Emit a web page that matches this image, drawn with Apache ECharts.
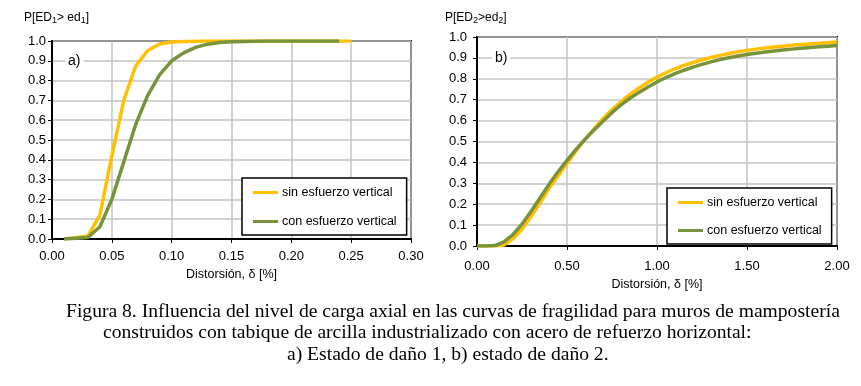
<!DOCTYPE html>
<html>
<head>
<meta charset="utf-8">
<script src="https://cdn.jsdelivr.net/npm/echarts@6/dist/echarts.min.js"></script>
<style>
  html, body { margin: 0; padding: 0; background: #fff; }
  #chart { width: 861px; height: 386px; }
</style>
</head>
<body>
<div id="chart"></div>
<script>
// Datos
const distA = [0.01, 0.02, 0.03, 0.04, 0.05, 0.06, 0.07, 0.08, 0.09, 0.10,
  0.11, 0.12, 0.13, 0.14, 0.15, 0.16, 0.17, 0.18, 0.19, 0.20,
  0.21, 0.22, 0.23, 0.24, 0.25];
const sinA = [0, 0.006, 0.015, 0.12, 0.42, 0.70, 0.875, 0.952, 0.985, 0.995,
  0.998, 0.999, 1, 1, 1, 1, 1, 1, 1, 1,
  1, 1, 1, 1, 1];
const conA = [0, 0.004, 0.008, 0.062, 0.20, 0.39, 0.58, 0.725, 0.83, 0.90,
  0.94, 0.968, 0.984, 0.992, 0.996, 0.998, 0.999, 1, 1, 1,
  1, 1, 1, 1];

const distB = [0.00, 0.05, 0.10, 0.15, 0.20, 0.25, 0.30, 0.35, 0.40, 0.45,
  0.50, 0.55, 0.60, 0.65, 0.70, 0.75, 0.80, 0.85, 0.90, 0.95,
  1.00, 1.05, 1.10, 1.15, 1.20, 1.25, 1.30, 1.35, 1.40, 1.45,
  1.50, 1.55, 1.60, 1.65, 1.70, 1.75, 1.80, 1.85, 1.90, 1.95, 2.00];
const sinB = [0, 0, 0, 0.005, 0.035, 0.08, 0.14, 0.205, 0.275, 0.335,
  0.395, 0.455, 0.51, 0.56, 0.61, 0.652, 0.69, 0.725, 0.756, 0.784,
  0.808, 0.829, 0.848, 0.864, 0.878, 0.891, 0.902, 0.912, 0.921, 0.929,
  0.936, 0.942, 0.947, 0.952, 0.956, 0.960, 0.964, 0.967, 0.970, 0.973, 0.976];
const conB = [0, 0, 0.002, 0.02, 0.055, 0.105, 0.165, 0.23, 0.295, 0.355,
  0.41, 0.462, 0.51, 0.555, 0.597, 0.638, 0.675, 0.707, 0.735, 0.761,
  0.785, 0.806, 0.825, 0.841, 0.856, 0.869, 0.881, 0.892, 0.901, 0.909,
  0.916, 0.922, 0.928, 0.933, 0.938, 0.942, 0.946, 0.950, 0.953, 0.956, 0.959];

const nameSin = "sin esfuerzo vertical";
const nameCon = "con esfuerzo vertical";
const yTitleA = ["P[ED", "1", "> ed", "1", "]"];
const yTitleB = ["P[ED", "2", ">ed", "2", "]"];
const xTitle = "Distorsión, δ [%]";
const caption = [
  "Figura 8. Influencia del nivel de carga axial en las curvas de fragilidad para muros de mampostería",
  "construidos con tabique de arcilla industrializado con acero de refuerzo horizontal:",
  "a) Estado de daño 1, b) estado de daño 2.",
];

const YELLOW = "#FFC000";
const GREEN = "#77933C";
const FONT = "Liberation Sans, Arial, sans-serif";
const SERIF = "Liberation Serif, Times New Roman, serif";

const pairs = (xs, ys) => ys.map((y, i) => [xs[i], y]);

function xAxisOf(idx, max, interval, margin, gap) {
  return {
    type: "value",
    gridIndex: idx,
    min: 0,
    max: max,
    interval: interval,
    name: xTitle,
    nameLocation: "middle",
    nameGap: gap,
    nameTextStyle: { fontFamily: FONT, fontSize: 12.5, color: "#000" },
    axisLine: { show: true, lineStyle: { color: "#000", width: 2 } },
    axisTick: { show: true, length: 4, lineStyle: { color: "#000" } },
    axisLabel: {
      margin: margin,
      fontFamily: FONT,
      fontSize: 13,
      color: "#000",
      formatter: (v) => v.toFixed(2),
    },
    splitLine: { show: true, lineStyle: { color: "#C4C4C4", width: 1.5 } },
  };
}

function yAxisOf(idx, margin) {
  return {
    type: "value",
    gridIndex: idx,
    min: 0,
    max: 1,
    interval: 0.1,
    axisLine: { show: true, lineStyle: { color: "#000", width: 2 } },
    axisTick: { show: true, length: 4, lineStyle: { color: "#000" } },
    axisLabel: {
      margin: margin,
      fontFamily: FONT,
      fontSize: 13,
      color: "#000",
      formatter: (v) => v.toFixed(1),
    },
    splitLine: { show: true, lineStyle: { color: "#C4C4C4", width: 1.5 } },
  };
}

function lineSeries(name, color, idx, data) {
  return {
    name: name,
    type: "line",
    xAxisIndex: idx,
    yAxisIndex: idx,
    data: data,
    showSymbol: false,
    symbol: "none",
    color: color,
    lineStyle: { color: color, width: 3.5 },
    z: 3,
  };
}

function legendOf(left, top, gap) {
  return {
    orient: "vertical",
    left: left,
    top: top,
    padding: [8, 10, 7, 11],
    itemGap: gap,
    itemWidth: 25,
    itemHeight: 3,
    icon: "rect",
    borderColor: "#000",
    borderWidth: 1.5,
    backgroundColor: "#fff",
    textStyle: { fontFamily: FONT, fontSize: 12.5, color: "#000", padding: [0, 0, 0, -1] },
    data: [nameSin, nameCon],
  };
}

function richTitle(parts) {
  return "{a|" + parts[0] + "}{s|" + parts[1] + "}{a|" + parts[2] + "}{s|" + parts[3] + "}{a|" + parts[4] + "}";
}

const richStyle = {
  a: { fontFamily: FONT, fontSize: 12, fill: "#000" },
  s: { fontFamily: FONT, fontSize: 9, fill: "#000", padding: [6, 0, 0, 0] },
};

const chart = echarts.init(document.getElementById("chart"));
const option = {
  animation: false,
  backgroundColor: "#fff",
  grid: [
    { left: 52, right: 450, top: 41, bottom: 147, show: true, borderColor: "#000", borderWidth: 2 },
    { left: 477, right: 24, top: 37, bottom: 140, show: true, borderColor: "#000", borderWidth: 2 },
  ],
  xAxis: [xAxisOf(0, 0.3, 0.05, 11, 27), xAxisOf(1, 2, 0.5, 14, 28)],
  yAxis: [yAxisOf(0, 6), yAxisOf(1, 10)],
  legend: [legendOf(242, 178, 16), legendOf(667, 188, 15)],
  series: [
    lineSeries(nameSin, YELLOW, 0, pairs(distA, sinA)),
    lineSeries(nameCon, GREEN, 0, pairs(distA, conA)),
    lineSeries(nameSin, YELLOW, 1, pairs(distB, sinB)),
    lineSeries(nameCon, GREEN, 1, pairs(distB, conB)),
  ],
  graphic: [
    { type: "text", left: 24, top: 12, style: { text: richTitle(yTitleA), rich: richStyle } },
    { type: "text", left: 445, top: 12, style: { text: richTitle(yTitleB), rich: richStyle } },
    {
      type: "text", left: 65, top: 54, z: 10,
      style: { text: "a)", fontFamily: FONT, fontSize: 14, fill: "#000", backgroundColor: "#fff", padding: [0, 3] },
    },
    {
      type: "text", left: 492, top: 51, z: 10,
      style: { text: "b)", fontFamily: FONT, fontSize: 14, fill: "#000", backgroundColor: "#fff", padding: [0, 3] },
    },
    { type: "text", left: 66, top: 302, style: { text: caption[0], fontFamily: SERIF, fontSize: 19.6, fill: "#000" } },
    { type: "text", left: 103, top: 323, style: { text: caption[1], fontFamily: SERIF, fontSize: 19.6, fill: "#000" } },
    { type: "text", left: 287, top: 345, style: { text: caption[2], fontFamily: SERIF, fontSize: 19.6, fill: "#000" } },
  ],
};
chart.setOption(option);
</script>
</body>
</html>
